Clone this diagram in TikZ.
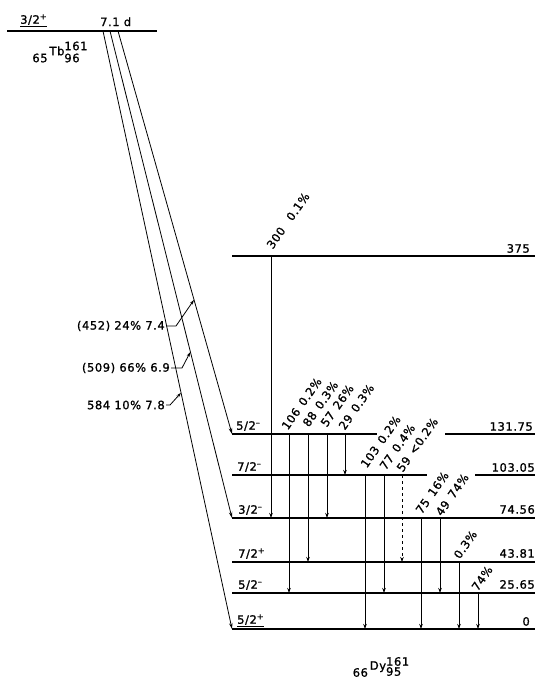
\documentclass[tikz,border=0pt]{standalone}
\usepackage{fontspec}
\setmainfont{DejaVu Sans}[LetterSpace=5, FakeBold=1.2]
\usetikzlibrary{arrows.meta,positioning,calc}
\newcommand{\lab}{\fontsize{11.5}{13}\selectfont}
\newcommand{\gl}[2]{#1\hspace{6pt}#2}
\newcommand{\mi}{\textsuperscript{--}}
\tikzset{
  level/.style={line width=1.5pt},
  gam/.style={-{Stealth[length=5pt,width=3.5pt]}, line width=0.8pt},
  gamdash/.style={gam, dashed},
  beta/.style={-{Stealth[length=6pt,width=3.5pt]}, line width=0.8pt},
  lead/.style={-{Stealth[length=5pt,width=3pt]}, line width=0.8pt},
  spin/.style={anchor=south west, inner sep=0pt, font=\lab},
  energy/.style={anchor=south east, inner sep=0pt, font=\lab},
  glab/.style={anchor=south west, inner sep=0pt, rotate=55, font=\lab},
  blab/.style={anchor=east, inner sep=1pt, font=\lab},
  nuc/.style={inner sep=0pt, font=\lab}
}

\begin{document}
\begin{tikzpicture}[x=1pt,y=-1pt]
 \useasboundingbox (0,0) rectangle (545,680);
 % parent
 \coordinate (tbL) at (7,31); \coordinate (tbR) at (157,31);
 \draw[level] (tbL) -- (tbR);
 \node[spin] (tbspin) at (20,27) {\underline{3/2\textsuperscript{+}}};
 \node[spin, anchor=base west] (half) at (100,26) {7.1 d};
 \node[nuc] (tb) at (56,52) {\raisebox{-7pt}{65}\,Tb\rlap{\raisebox{5pt}{161}}\raisebox{-7pt}{96}};
 % daughter levels
 \foreach \n/\y in {l375/256, l13175/434, l10305/475, l7456/518, l4381/562, l2565/593, l0/629} {
   \coordinate (\n) at (232,\y);
   \coordinate (\n-r) at (535,\y);
 }
 \draw[level] (l375) -- (l375-r);
 \draw[level] (l13175) -- (377,0 |- l13175) (445,0 |- l13175) -- (l13175-r);
 \draw[level] (l10305) -- (427,0 |- l10305) (475,0 |- l10305) -- (l10305-r);
 \foreach \n in {l7456,l4381,l2565,l0} \draw[level] (\n) -- (\n-r);
 % spins and energies
 \node[spin] (s13175) at ($(l13175)+(4,-3)$) {5/2\mi};
 \node[spin] (s10305) at ($(l10305)+(5,-3)$) {7/2\mi};
 \node[spin] (s7456) at ($(l7456)+(6,-3)$) {3/2\mi};
 \node[spin] (s4381) at ($(l4381)+(6,-3)$) {7/2\textsuperscript{+}};
 \node[spin] (s2565) at ($(l2565)+(6,-3)$) {5/2\mi};
 \node[spin] (s0) at ($(l0)+(5,-2)$) {\underline{5/2\textsuperscript{+}}};
 \node[energy] (e375) at ($(l375-r)+(-5,-3)$) {375};
 \node[energy] (e13175) at ($(l13175-r)+(-2,-3)$) {131.75};
 \node[energy] (e10305) at ($(l10305-r)+(0,-3)$) {103.05};
 \node[energy] (e7456) at ($(l7456-r)+(0,-4)$) {74.56};
 \node[energy] (e4381) at ($(l4381-r)+(0,-4)$) {43.81};
 \node[energy] (e2565) at ($(l2565-r)+(0,-4)$) {25.65};
 \node[energy] (e0) at ($(l0-r)+(-5,-3)$) {0};
 % beta branches
 \coordinate (b1) at (103,0 |- tbL);
 \coordinate (b2) at (110,0 |- tbL);
 \coordinate (b3) at (118,0 |- tbL);
 \draw[beta] (b1) -- (l0);
 \draw[beta] (b2) -- (l7456);
 \draw[beta] (b3) -- (l13175);
 \coordinate (p74) at ($(b3)!0.667!(l13175)$);
 \coordinate (p69) at ($(b2)!0.659!(l7456)$);
 \coordinate (p78) at ($(b1)!0.605!(l0)$);
 \node[blab] (t74) at (166,326) {(452) 24\% 7.4};
 \node[blab] (t69) at (171,368) {(509) 66\% 6.9};
 \node[blab] (t78) at (166,405) {584 10\% 7.8};
 \draw[lead] (t74.east) -- ++(10,0) -- (p74);
 \draw[lead] (t69.east) -- ++(11,0) -- (p69);
 \draw[lead] (t78.east) -- ++(4,0) -- (p78);
 % gamma transitions
 \foreach \x/\a/\b in {271/l375/l7456, 289/l13175/l2565, 308/l13175/l4381, 327/l13175/l7456,
     345/l13175/l10305, 365/l10305/l0, 384/l10305/l2565, 421/l7456/l0, 440/l7456/l2565,
     459/l4381/l0, 478/l2565/l0}
   \draw[gam] (\x,0 |- \a) -- (\x,0 |- \b);
 \draw[gamdash] (402,0 |- l10305) -- (402,0 |- l4381);
 \node[glab] (g300) at (273,250) {300\hspace{11pt}0.1\%};
 \node[glab] (g106) at (288,431) {\gl{106}{0.2\%}};
 \node[glab] (g88) at (309,428) {\gl{88}{0.3\%}};
 \node[glab] (g57) at (327,428) {\gl{57}{26\%}};
 \node[glab] (g29) at (345,431) {\gl{29}{0.3\%}};
 \node[glab] (g103) at (367,469) {\gl{103}{0.2\%}};
 \node[glab] (g77) at (386,471) {\gl{77}{0.4\%}};
 \node[glab] (g59) at (403,473) {\gl{59}{<0.2\%}};
 \node[glab] (g75) at (422,515) {\gl{75}{16\%}};
 \node[glab] (g49) at (442,517) {\gl{49}{74\%}};
 \node[glab] (g44) at (460,560) {0.3\%};
 \node[glab] (g26) at (478,592) {74\%};
 % daughter
 \node[nuc] (dy) at (377,667) {\raisebox{-7pt}{66}\,Dy\rlap{\raisebox{4pt}{161}}\raisebox{-6pt}{95}};
\end{tikzpicture}
\end{document}
